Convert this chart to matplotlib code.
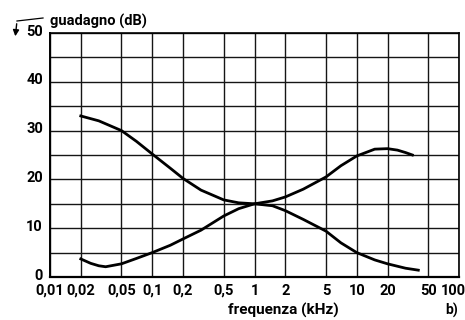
import matplotlib
matplotlib.use("Agg")
import matplotlib.pyplot as plt
from matplotlib.ticker import FixedLocator, NullLocator
import matplotlib.transforms as mtransforms

# Data
freq_tick_values = [0.01, 0.02, 0.05, 0.1, 0.2, 0.5, 1, 2, 5, 10, 20, 50, 100]
freq_tick_labels = ["0,01", "0,02", "0,05", "0,1", "0,2", "0,5", "1", "2", "5", "10", "20", "50", "100"]
gain_grid_values = [0, 5, 10, 15, 20, 25, 30, 35, 40, 45, 50]
gain_tick_values = [0, 10, 20, 30, 40, 50]
gain_tick_labels = ["0", "10", "20", "30", "40", "50"]

falling_freq = [0.02, 0.03, 0.05, 0.07, 0.1, 0.15, 0.2, 0.3, 0.5, 0.7, 1, 1.5, 2, 3, 5, 7, 10, 15, 20, 30, 40]
falling_gain = [33.0, 32.0, 30.0, 27.8, 25.2, 22.3, 20.2, 17.8, 15.8, 15.2, 15.0, 14.6, 13.6, 11.8, 9.4, 7.0, 5.0, 3.5, 2.7, 1.8, 1.4]

rising_freq = [0.02, 0.025, 0.03, 0.035, 0.05, 0.07, 0.1, 0.15, 0.2, 0.3, 0.5, 0.7, 1, 1.5, 2, 3, 5, 7, 10, 15, 20, 25, 30, 35]
rising_gain = [3.7, 2.8, 2.3, 2.1, 2.7, 3.8, 5.0, 6.5, 7.8, 9.6, 12.5, 14.0, 15.0, 15.6, 16.4, 18.0, 20.5, 22.8, 24.8, 26.2, 26.3, 26.0, 25.5, 25.0]

FAM = ["Roboto", "DejaVu Sans"]
FONT = dict(family=FAM, fontweight="bold")

fig = plt.figure(figsize=(4.65, 3.2), dpi=100)
fig.patch.set_facecolor("white")
ax = fig.add_axes([50/465, 43/320, 409/465, 244/320])
ax.set_xscale("log")
ax.set_xlim(0.01, 100)
ax.set_ylim(0, 50)

for v in freq_tick_values:
    ax.axvline(v, color="#151515", lw=1.0, zorder=1)
for v in gain_grid_values:
    ax.axhline(v, color="#151515", lw=1.0, zorder=1)

ax.plot(falling_freq, falling_gain, color="black", lw=2.0, zorder=3)
ax.plot(rising_freq, rising_gain, color="black", lw=2.0, zorder=3)

ax.xaxis.set_major_locator(FixedLocator(freq_tick_values))
ax.xaxis.set_minor_locator(NullLocator())
ax.set_xticklabels(freq_tick_labels)
ax.set_yticks(gain_tick_values)
ax.set_yticklabels(gain_tick_labels)
ax.tick_params(length=0, pad=5, labelsize=10.5)
for lab in ax.get_xticklabels() + ax.get_yticklabels():
    lab.set_family(FAM)
    lab.set_fontweight("bold")
offset = mtransforms.ScaledTranslation(0, 3/100, fig.dpi_scale_trans)
for lab in ax.get_yticklabels():
    lab.set_transform(lab.get_transform() + offset)
xoff = mtransforms.ScaledTranslation(-6/100, 0, fig.dpi_scale_trans)
ax.get_xticklabels()[-1].set_transform(ax.get_xticklabels()[-1].get_transform() + xoff)

for s in ax.spines.values():
    s.set_color("black")
    s.set_linewidth(1.2)
ax.spines["bottom"].set_linewidth(1.6)
ax.spines["left"].set_linewidth(1.4)

fig.text(50/465, 1 - 21/320, "guadagno (dB)", fontsize=10.5, ha="left", va="center", **FONT)
fig.text(283/465, 1 - 310/320, "frequenza (kHz)", fontsize=11, ha="center", va="center", **FONT)
fig.text(452/465, 2/320, "b)", fontsize=10, ha="center", va="bottom", **FONT)

# bent arrow pointing to the y axis label
fig.add_artist(plt.Line2D([43/465, 17/465], [1 - 18/320, 1 - 21/320], color="black", lw=0.9,
                          transform=fig.transFigure))
fig.add_artist(matplotlib.patches.FancyArrowPatch((17/465, 1 - 21/320), (15/465, 1 - 39/320),
                                                  transform=fig.transFigure, arrowstyle="-|>",
                                                  mutation_scale=9, color="black", lw=1.0))

fig.savefig("out.png", dpi=100, facecolor="white")
